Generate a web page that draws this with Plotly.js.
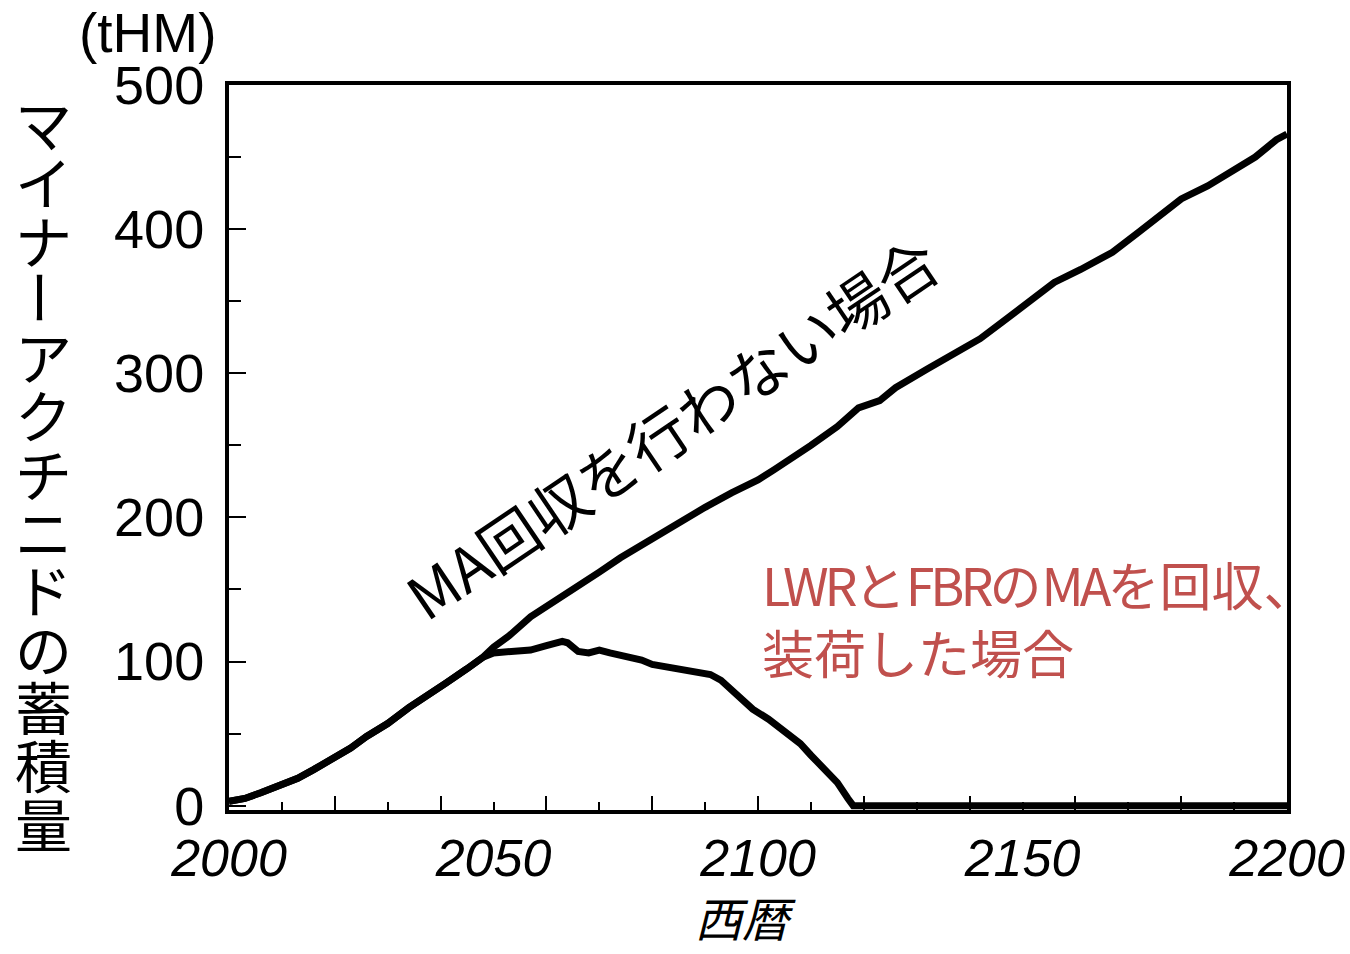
<!DOCTYPE html>
<html><head><meta charset="utf-8">
<script src="https://cdn.plot.ly/plotly-3.0.1.min.js"></script>
<style>html,body{margin:0;padding:0;background:#fff}#chart{width:1350px;height:954px}</style>
</head><body><div id="chart"></div>
<script>
// ---- data ----
const yearsNoRecovery = [2000,2003,2006,2010,2013,2016,2019,2023,2026,2030,2034,2038,2041,2045,2048,2050,2053,2057,2060,2065,2070,2074,2080,2085,2090,2095,2100,2103,2107,2110,2115,2119,2123,2126,2132,2137,2142,2146,2151,2156,2161,2167,2172,2176,2180,2185,2189,2194,2198,2200];
const maNoRecovery = [3,5,9,15,19,25,31,40,48,57,68,77,85,95,103,110,118,131,138,149,162,172,185,197,207,217,226,233,242,250,263,276,281,290,303,313,324,335,349,363,372,384,398,410,421,430,439,450,462,466];
const yearsRecovery = [2000,2003,2006,2010,2013,2016,2019,2023,2026,2030,2034,2038,2041,2045,2048,2050,2053,2057,2060,2063,2064,2066,2068,2070,2072,2075,2078,2080,2083,2086,2089,2091,2093,2095,2097,2099,2102,2105,2108,2110,2112,2115,2117,2118,2200];
const maRecovery = [3,5,9,15,19,25,31,40,48,57,68,77,85,95,103,106,107,108,111,114,113,107,106,108,106,104,101,98,96,94,93,91,87,80,74,67,60,51,43,35,28,16,5,0,0];
const xTickYears = [2000,2050,2100,2150,2200];
const xTickLabels = ['2000','2050','2100','2150','2200'];
const yTickValues = [0,100,200,300,400,500];
const yTickLabels = ['0','100','200','300','400','500'];
const yTitleChars = ['マ','イ','ナ','ー','ア','ク','チ','ニ','ド','の','蓄','積','量'];
const unitLabel = '(tHM)';
const xTitleText = '西暦';
const labelNoRecovery = 'MA回収を行わない場合';
const recoveryLine1 = [['LWR', true], ['と', false], ['FBR', true], ['の', false], ['MA', true], ['を回収、', false]];
const recoveryLine2 = '装荷した場合';

// ---- layout geometry (pixels) ----
const L = 229, R = 1287, T = 85, B = 810;
const px = p => (p - L) / (R - L);
const py = p => (B - p) / (B - T);
const numFont = 'Liberation Sans, Arial, sans-serif';
const jpFont = 'Noto Sans CJK JP, sans-serif';

const traces = [
  {x: yearsNoRecovery, y: maNoRecovery, type: 'scatter', mode: 'lines',
   line: {color: '#000', width: 7}, xaxis: 'x', yaxis: 'y', hoverinfo: 'skip'},
  {x: yearsRecovery, y: maRecovery, type: 'scatter', mode: 'lines',
   line: {color: '#000', width: 7}, xaxis: 'x2', yaxis: 'y', hoverinfo: 'skip'}
];

const annotations = [];
yTitleChars.forEach((c, i) => {
  annotations.push({
    text: c, xref: 'paper', yref: 'paper', x: px(43), y: py(122 + i * 58.3),
    xanchor: 'center', yanchor: 'middle', showarrow: false,
    textangle: c === 'ー' ? 90 : 0,
    font: {family: jpFont, size: 57, color: '#000'}
  });
});
annotations.push({
  text: unitLabel, xref: 'paper', yref: 'paper', x: px(147), y: py(33),
  xanchor: 'center', yanchor: 'middle', showarrow: false,
  font: {family: numFont, size: 55, color: '#000'}
});
annotations.push({
  text: xTitleText, xref: 'paper', yref: 'paper', x: px(745), y: py(916),
  xanchor: 'center', yanchor: 'middle', showarrow: false,
  font: {family: jpFont, size: 47, color: '#000', style: 'italic'}
});
annotations.push({
  text: labelNoRecovery, xref: 'paper', yref: 'paper', x: px(670), y: py(426),
  xanchor: 'center', yanchor: 'middle', showarrow: false, textangle: -34,
  font: {family: jpFont, size: 60, color: '#000'}
});
const line1Html = recoveryLine1.map(([t, latin]) =>
  latin ? '<span style="letter-spacing:-4px">' + t + '</span>' : t).join('');
annotations.push({
  text: line1Html + '<br>' + recoveryLine2, xref: 'paper', yref: 'paper', x: px(760), y: py(617),
  xanchor: 'left', yanchor: 'middle', align: 'left', showarrow: false,
  font: {family: jpFont, size: 52, color: '#C0504D'}
});

const layout = {
  width: 1350, height: 954,
  margin: {l: L, r: 1350 - R, t: T, b: 954 - B, pad: 0},
  paper_bgcolor: '#fff', plot_bgcolor: '#fff',
  showlegend: false,
  xaxis: {
    range: [2000, 2200], tickmode: 'array', tickvals: xTickYears, ticktext: xTickLabels,
    ticks: '', showline: true, mirror: true, linecolor: '#000', linewidth: 4,
    showgrid: false, zeroline: false, ticklabelstandoff: 0,
    tickfont: {family: numFont, size: 52, color: '#000', style: 'italic'}
  },
  xaxis2: {
    overlaying: 'x', anchor: 'y', side: 'bottom', range: [2000, 2200],
    tickmode: 'linear', tick0: 2000, dtick: 20, ticks: 'inside', ticklen: 14,
    tickwidth: 2, tickcolor: '#000', showticklabels: false, showgrid: false,
    zeroline: false, showline: false,
    minor: {tickmode: 'linear', tick0: 2000, dtick: 10, ticks: 'inside', ticklen: 8,
            tickwidth: 2, tickcolor: '#000', showgrid: false}
  },
  yaxis: {
    range: [-3, 500], tickmode: 'array', tickvals: yTickValues, ticktext: yTickLabels,
    ticks: 'inside', ticklen: 17, tickwidth: 2, tickcolor: '#000',
    showline: true, mirror: true, linecolor: '#000', linewidth: 4,
    showgrid: false, zeroline: false, ticklabelstandoff: 10,
    tickfont: {family: numFont, size: 54, color: '#000'},
    minor: {tickmode: 'linear', tick0: 0, dtick: 50, ticks: 'inside', ticklen: 12,
            tickwidth: 2, tickcolor: '#000', showgrid: false}
  },
  annotations: annotations
};

Plotly.newPlot('chart', traces, layout, {staticPlot: true, displayModeBar: false});
</script>
</body></html>
